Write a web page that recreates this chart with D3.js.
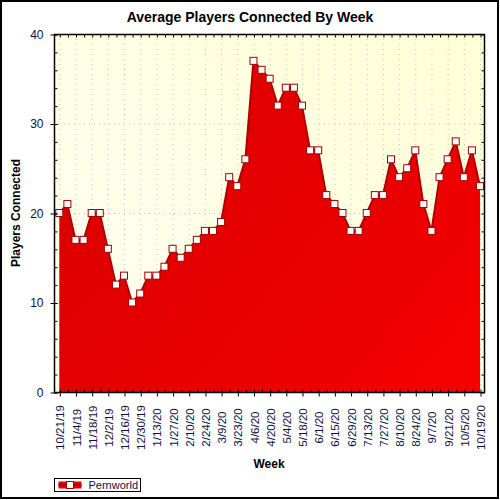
<!DOCTYPE html>
<html>
<head>
<meta charset="utf-8">
<script src="https://cdn.jsdelivr.net/npm/d3@7"></script>
<style>
  body { margin: 0; background: #fff; }
  svg { display: block; font-family: 'Liberation Sans', Arial, sans-serif; }
</style>
</head>
<body>
<svg id="chart" width="500" height="500"></svg>
<script>
const weeks = [
  '10/21/19', '10/28/19', '11/4/19', '11/11/19', '11/18/19', '11/25/19',
  '12/2/19', '12/9/19', '12/16/19', '12/23/19', '12/30/19', '1/6/20',
  '1/13/20', '1/20/20', '1/27/20', '2/3/20', '2/10/20', '2/17/20',
  '2/24/20', '3/2/20', '3/9/20', '3/16/20', '3/23/20', '3/30/20',
  '4/6/20', '4/13/20', '4/20/20', '4/27/20', '5/4/20', '5/11/20',
  '5/18/20', '5/25/20', '6/1/20', '6/8/20', '6/15/20', '6/22/20',
  '6/29/20', '7/6/20', '7/13/20', '7/20/20', '7/27/20', '8/3/20',
  '8/10/20', '8/17/20', '8/24/20', '8/31/20', '9/7/20', '9/14/20',
  '9/21/20', '9/28/20', '10/5/20', '10/12/20', '10/19/20'
];
const players = [
  20, 21, 17, 17, 20, 20, 16, 12, 13, 10, 11, 13, 13, 14, 16, 15, 16, 17,
  18, 18, 19, 24, 23, 26, 37, 36, 35, 32, 34, 34, 32, 27, 27, 22, 21, 20,
  18, 18, 20, 22, 22, 26, 24, 25, 27, 21, 18, 24, 26, 28, 24, 27, 23
];
// every other week gets a label
const labelWeeks = weeks.filter((d, i) => i % 2 === 0);
const yMajor = [0, 10, 20, 30, 40];
const seriesName = 'Pernworld';

const svg = d3.select('#chart');
const plot = { left: 54, right: 484, top: 34, bottom: 392 };
const textColor = '#101040';

const x = d3.scalePoint().domain(weeks).range([59.3, 480]);
const y = d3.scaleLinear().domain([0, 40]).range([plot.bottom, plot.top]);

const defs = svg.append('defs');
const bgGrad = defs.append('linearGradient')
  .attr('id', 'bg-grad')
  .attr('x1', '0%').attr('y1', '100%')
  .attr('x2', '100%').attr('y2', '0%');
bgGrad.append('stop').attr('offset', '0%').attr('stop-color', '#fffff4');
bgGrad.append('stop').attr('offset', '100%').attr('stop-color', '#ffffd6');

const redGrad = defs.append('linearGradient')
  .attr('id', 'red-grad')
  .attr('gradientUnits', 'userSpaceOnUse')
  .attr('x1', plot.left).attr('y1', plot.top)
  .attr('x2', plot.right).attr('y2', plot.bottom);
redGrad.append('stop').attr('offset', '0%').attr('stop-color', '#d60000');
redGrad.append('stop').attr('offset', '100%').attr('stop-color', '#f60000');

// outer frame
svg.append('rect')
  .attr('x', 1).attr('y', 1)
  .attr('width', 497).attr('height', 497)
  .attr('fill', '#fff')
  .attr('stroke', '#000')
  .attr('stroke-width', 2);

svg.append('rect')
  .attr('x', plot.left).attr('y', plot.top)
  .attr('width', plot.right - plot.left)
  .attr('height', plot.bottom - plot.top)
  .attr('fill', 'url(#bg-grad)');

// dotted grid
svg.append('g')
  .selectAll('line')
  .data(labelWeeks)
  .enter()
  .append('line')
  .attr('x1', (d) => x(d) + 0.5)
  .attr('x2', (d) => x(d) + 0.5)
  .attr('y1', plot.top)
  .attr('y2', plot.bottom)
  .attr('stroke', '#c4c4c4')
  .attr('stroke-dasharray', '1,4');

svg.append('g')
  .selectAll('line')
  .data(yMajor.slice(1, -1))
  .enter()
  .append('line')
  .attr('x1', plot.left)
  .attr('x2', plot.right)
  .attr('y1', (d) => y(d) + 0.5)
  .attr('y2', (d) => y(d) + 0.5)
  .attr('stroke', '#c4c4c4')
  .attr('stroke-dasharray', '1,4');

// area + outline
const area = d3.area()
  .x((d, i) => x(weeks[i]))
  .y0(y(0))
  .y1((d) => y(d));
const line = d3.line()
  .x((d, i) => x(weeks[i]))
  .y((d) => y(d));

svg.append('path')
  .datum(players)
  .attr('d', area)
  .attr('fill', 'url(#red-grad)');

svg.append('path')
  .datum(players)
  .attr('d', line)
  .attr('fill', 'none')
  .attr('stroke', '#b00000')
  .attr('stroke-width', 2)
  .attr('stroke-linejoin', 'round');

svg.append('g')
  .selectAll('rect')
  .data(players)
  .enter()
  .append('rect')
  .attr('x', (d, i) => x(weeks[i]) - 3.5)
  .attr('y', (d) => y(d) - 3.5)
  .attr('width', 7)
  .attr('height', 7)
  .attr('fill', '#fff')
  .attr('stroke', '#a00000')
  .attr('stroke-width', 1);

// plot frame
svg.append('rect')
  .attr('x', plot.left + 0.5).attr('y', plot.top + 0.5)
  .attr('width', plot.right - plot.left)
  .attr('height', plot.bottom - plot.top)
  .attr('fill', 'none')
  .attr('stroke', '#000')
  .attr('stroke-width', 1.5);

// left axis: major ticks crossing the axis, minor ticks inward
const leftAxis = svg.append('g')
  .attr('transform', `translate(${plot.left + 0.5},0.5)`)
  .call(d3.axisLeft(y).tickValues(yMajor).tickSize(4).tickPadding(7));
leftAxis.select('.domain').remove();
leftAxis.selectAll('line').attr('x2', -4).attr('x1', 3).attr('stroke', '#000');
leftAxis.selectAll('text')
  .attr('fill', textColor)
  .style('font-size', '12px');

const leftMinor = svg.append('g')
  .attr('transform', `translate(${plot.left + 0.5},0.5)`)
  .call(d3.axisRight(y).tickValues(d3.range(0, 41, 2)).tickSize(3).tickFormat(''));
leftMinor.select('.domain').remove();

const rightAxis = svg.append('g')
  .attr('transform', `translate(${plot.right + 0.5},0.5)`)
  .call(d3.axisLeft(y).tickValues(d3.range(0, 41, 2)).tickSize(3).tickFormat(''));
rightAxis.select('.domain').remove();

const topAxis = svg.append('g')
  .attr('transform', `translate(0.5,${plot.top + 0.5})`)
  .call(d3.axisBottom(x).tickSize(3).tickFormat(''));
topAxis.select('.domain').remove();

// bottom axis
const bottomMinor = svg.append('g')
  .attr('transform', `translate(0.5,${plot.bottom + 0.5})`)
  .call(d3.axisTop(x).tickSize(3).tickFormat(''));
bottomMinor.select('.domain').remove();

const bottomAxis = svg.append('g')
  .attr('transform', `translate(0.5,${plot.bottom + 0.5})`)
  .call(d3.axisBottom(x).tickValues(labelWeeks).tickSize(4));
bottomAxis.select('.domain').remove();
bottomAxis.selectAll('line').attr('stroke', '#000');
bottomAxis.selectAll('text')
  .attr('fill', textColor)
  .attr('transform', 'translate(0,35) rotate(-90)')
  .attr('x', 0)
  .attr('y', 0)
  .attr('dy', '0.35em')
  .attr('text-anchor', 'middle')
  .style('font-size', '11.5px');

// titles
svg.append('text')
  .attr('x', 250)
  .attr('y', 22)
  .attr('text-anchor', 'middle')
  .style('font-size', '14px')
  .style('font-weight', 'bold')
  .text('Average Players Connected By Week');

svg.append('text')
  .attr('transform', `translate(20,${(plot.top + plot.bottom) / 2}) rotate(-90)`)
  .attr('text-anchor', 'middle')
  .style('font-size', '12px')
  .style('font-weight', 'bold')
  .text('Players Connected');

svg.append('text')
  .attr('x', (plot.left + plot.right) / 2)
  .attr('y', 468)
  .attr('text-anchor', 'middle')
  .style('font-size', '12px')
  .style('font-weight', 'bold')
  .text('Week');

// legend
const legend = svg.append('g').attr('transform', 'translate(54.5,478.5)');
legend.append('rect')
  .attr('width', 86).attr('height', 13)
  .attr('fill', '#fff').attr('stroke', '#000');
legend.append('rect')
  .attr('x', 4).attr('y', 3).attr('width', 23).attr('height', 7)
  .attr('fill', '#e60000');
legend.append('line')
  .attr('x1', 4).attr('x2', 27).attr('y1', 6.5).attr('y2', 6.5)
  .attr('stroke', '#b00000').attr('stroke-width', 2);
legend.append('rect')
  .attr('x', 12).attr('y', 3).attr('width', 7).attr('height', 7)
  .attr('fill', '#fff').attr('stroke', '#a00000');
legend.append('text')
  .attr('x', 34).attr('y', 10.5)
  .attr('fill', textColor)
  .style('font-size', '11px')
  .text(seriesName);
</script>
</body>
</html>
